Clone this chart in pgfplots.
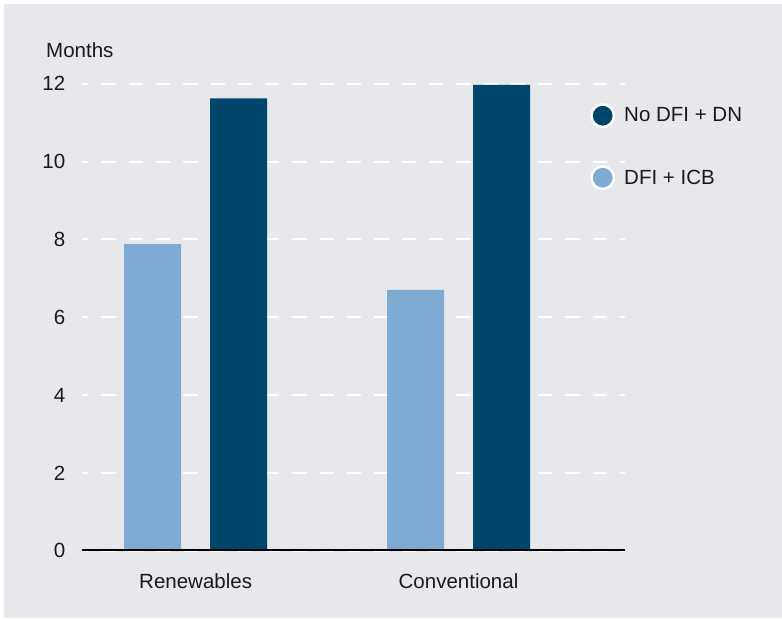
\documentclass[border=0pt]{standalone}
\usepackage{pgfplots}
\pgfplotsset{compat=1.18}
\usepackage{fontspec}
\setmainfont{Liberation Sans}
\definecolor{bg}{HTML}{E7E8EC}
\definecolor{lightbar}{HTML}{7FAAD1}
\definecolor{darkbar}{HTML}{00466B}
\definecolor{txt}{HTML}{1A1A1A}
\newcommand{\chartfont}{\fontsize{20.5}{24}\selectfont}
\begin{document}
\begin{tikzpicture}[x=1pt,y=1pt]
\useasboundingbox (0,0) rectangle (782,-620);
\fill[white] (0,0) rectangle (782,-620);
\fill[bg] (4,-4) rectangle (782,-618);
\node[anchor=base west, inner sep=0pt, font=\chartfont, text=txt] at (46,-58) {Months};
\begin{axis}[
  at={(81.7pt,-550.7pt)}, anchor=south west,
  scale only axis, width=543.3pt, height=467pt,
  xmin=0.5665, xmax=2.6334,
  ymin=0, ymax=12,
  ytick={0,2,4,6,8,10,12},
  xtick={1,2}, xticklabels={Renewables,Conventional},
  /pgf/number format/assume math mode=true,
  axis line style={draw=none},
  major tick length=0pt,
  tick style={draw=none},
  ymajorgrids,
  grid style={white, line width=2pt, dash pattern=on 14.3pt off 13pt, dash phase=7.7pt},
  tick label style={font=\chartfont, text=txt},
  xticklabel style={yshift=-19.5pt},
  yticklabel style={xshift=-12.9pt},
  ybar, bar width=57pt,
  reverse legend,
  legend cell align=left,
  legend style={at={(axis description cs:0.9356,0.9587)}, anchor=north west,
    draw=none, fill=none, inner sep=0pt, font=\chartfont, text=txt,
    row sep=37pt,
    /tikz/every odd column/.append style={column sep=7pt}},
  legend image code/.code={\draw[#1, draw=white, line width=2.5pt] (12.5pt,0pt) circle (11.25pt);},
]
\addplot[fill=lightbar, draw=none, bar shift=0pt] coordinates {(0.8364,7.88) (1.8364,6.70)};
\addlegendentry{DFI + ICB}
\addplot[fill=darkbar, draw=none, bar shift=0pt] coordinates {(1.1636,11.62) (2.1636,11.97)};
\addlegendentry{No DFI + DN}
\draw[black, line width=2.8pt] (rel axis cs:0,0) -- (rel axis cs:1,0);
\end{axis}
\end{tikzpicture}
\end{document}
